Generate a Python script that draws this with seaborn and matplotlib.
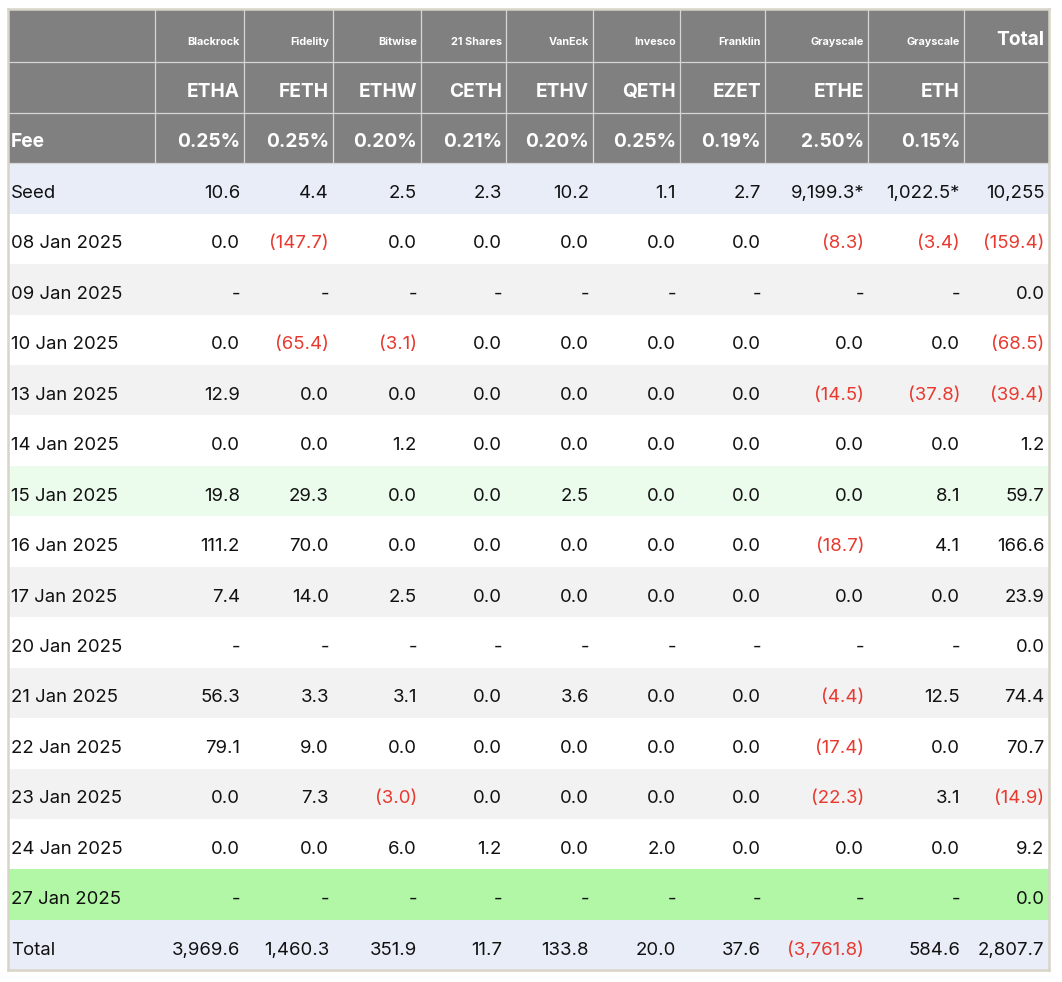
import numpy as np
import matplotlib.pyplot as plt
import seaborn as sns
from matplotlib.colors import ListedColormap

# Data
companies = ["Blackrock", "Fidelity", "Bitwise", "21 Shares", "VanEck",
             "Invesco", "Franklin", "Grayscale", "Grayscale"]
tickers = ["ETHA", "FETH", "ETHW", "CETH", "ETHV", "QETH", "EZET", "ETHE", "ETH"]
fees = ["0.25%", "0.25%", "0.20%", "0.21%", "0.20%", "0.25%", "0.19%", "2.50%", "0.15%"]

seed = [10.6, 4.4, 2.5, 2.3, 10.2, 1.1, 2.7, 9199.3, 1022.5, 10255]
seed_marked = [False] * 7 + [True, True, False]

dates = ["08 Jan 2025", "09 Jan 2025", "10 Jan 2025", "13 Jan 2025", "14 Jan 2025",
         "15 Jan 2025", "16 Jan 2025", "17 Jan 2025", "20 Jan 2025", "21 Jan 2025",
         "22 Jan 2025", "23 Jan 2025", "24 Jan 2025", "27 Jan 2025"]
nan = np.nan
flows = [
    [0.0, -147.7, 0.0, 0.0, 0.0, 0.0, 0.0, -8.3, -3.4, -159.4],
    [nan, nan, nan, nan, nan, nan, nan, nan, nan, 0.0],
    [0.0, -65.4, -3.1, 0.0, 0.0, 0.0, 0.0, 0.0, 0.0, -68.5],
    [12.9, 0.0, 0.0, 0.0, 0.0, 0.0, 0.0, -14.5, -37.8, -39.4],
    [0.0, 0.0, 1.2, 0.0, 0.0, 0.0, 0.0, 0.0, 0.0, 1.2],
    [19.8, 29.3, 0.0, 0.0, 2.5, 0.0, 0.0, 0.0, 8.1, 59.7],
    [111.2, 70.0, 0.0, 0.0, 0.0, 0.0, 0.0, -18.7, 4.1, 166.6],
    [7.4, 14.0, 2.5, 0.0, 0.0, 0.0, 0.0, 0.0, 0.0, 23.9],
    [nan, nan, nan, nan, nan, nan, nan, nan, nan, 0.0],
    [56.3, 3.3, 3.1, 0.0, 3.6, 0.0, 0.0, -4.4, 12.5, 74.4],
    [79.1, 9.0, 0.0, 0.0, 0.0, 0.0, 0.0, -17.4, 0.0, 70.7],
    [0.0, 7.3, -3.0, 0.0, 0.0, 0.0, 0.0, -22.3, 3.1, -14.9],
    [0.0, 0.0, 6.0, 1.2, 0.0, 2.0, 0.0, 0.0, 0.0, 9.2],
    [nan, nan, nan, nan, nan, nan, nan, nan, nan, 0.0],
]
totals = [3969.6, 1460.3, 351.9, 11.7, 133.8, 20.0, 37.6, -3761.8, 584.6, 2807.7]

# row background styles: 0 header, 1 seed/total, 2 white, 3 grey, 4 light green, 5 green
row_styles = [0, 0, 0, 1, 2, 3, 2, 3, 2, 4, 2, 3, 2, 3, 2, 3, 2, 5, 1]
palette = ["#808080", "#e9edf8", "#ffffff", "#f2f2f2", "#ebfbec", "#b1f7a5"]

RED = "#e8392f"
INK = "#111111"

sns.set_theme(style="white")
plt.rcParams["font.family"] = ["Inter", "DejaVu Sans"]

W, H = 1062, 982
fig = plt.figure(figsize=(W / 100, H / 100), dpi=100)

# layout in pixels
col_edges = [7.5, 154.5, 244, 333, 421, 506, 593, 680, 765, 868, 964, 1048.5]
n_cols = len(col_edges) - 1
n_rows = len(row_styles)
row_edges = [9.3, 61.7, 112.7, 163.3] + list(np.linspace(163.3, 970.3, n_rows - 2)[1:])

ax = fig.add_axes([col_edges[0] / W, 1 - row_edges[-1] / H,
                   (col_edges[-1] - col_edges[0]) / W, (row_edges[-1] - row_edges[0]) / H])

grid = np.repeat(np.array(row_styles)[:, None], n_cols, axis=1)

sns.heatmap(grid, ax=ax, cmap=ListedColormap(palette), vmin=-0.5, vmax=len(palette) - 0.5,
            cbar=False, xticklabels=False, yticklabels=False, linewidths=0)


def piecewise(px):
    i = np.arange(len(px), dtype=float)
    e = np.array(px, dtype=float)
    return (lambda x: np.interp(x, i, e)), (lambda x: np.interp(x, e, i))


# uneven column widths / row heights via piecewise-linear scales
ax.set_xscale("function", functions=piecewise(col_edges))
ax.set_yscale("function", functions=piecewise(row_edges))
ax.set_xlim(0, n_cols)
ax.set_ylim(n_rows, 0)
ax.set_xticks([])
ax.set_yticks([])
ax.minorticks_off()

# header grid lines
ax.hlines([1, 2, 3], 0, n_cols, color="#d6d6d6", lw=0.9)
ax.vlines(np.arange(1, n_cols), 0, 3, color="#d6d6d6", lw=0.9)

for s in ax.spines.values():
    s.set_visible(True)
    s.set_color("#d8d4c8")
    s.set_linewidth(1.8)


def put(text, col, row, color=INK, size=13.4, weight="normal", left=False):
    if left:
        ax.annotate(text, xy=(col, row + 0.5), xytext=(3.5, -9.5), textcoords="offset pixels",
                    ha="left", va="baseline", color=color, fontsize=size, fontweight=weight)
    else:
        ax.annotate(text, xy=(col + 1, row + 0.5), xytext=(-4, -9.5), textcoords="offset pixels",
                    ha="right", va="baseline", color=color, fontsize=size, fontweight=weight)


def fmt(v):
    if np.isnan(v):
        return "-"
    if v < 0:
        return f"({abs(v):,.1f})"
    return f"{v:,.1f}"


# header
for j, name in enumerate(companies):
    put(name, j + 1, 0, color="white", size=7.8, weight="bold")
put("Total", n_cols - 1, 0, color="white", size=13.8, weight="bold")
for j, t in enumerate(tickers):
    put(t, j + 1, 1, color="white", size=13.8, weight="bold")
put("Fee", 0, 2, color="white", size=13.8, weight="bold", left=True)
for j, f in enumerate(fees):
    put(f, j + 1, 2, color="white", size=13.8, weight="bold")

# seed row
put("Seed", 0, 3, left=True)
for j, v in enumerate(seed):
    if j == len(seed) - 1:
        txt = f"{v:,.0f}"
    else:
        txt = fmt(v) + ("*" if seed_marked[j] else "")
    put(txt, j + 1, 3)

# daily flows
for i, (d, vals) in enumerate(zip(dates, flows)):
    r = i + 4
    put(d, 0, r, left=True)
    for j, v in enumerate(vals):
        put(fmt(v), j + 1, r, color=RED if v < 0 else INK)

# totals
r = n_rows - 1
put("Total", 0, r, left=True)
for j, v in enumerate(totals):
    put(fmt(v), j + 1, r, color=RED if v < 0 else INK)

fig.savefig("out.png", dpi=100)
